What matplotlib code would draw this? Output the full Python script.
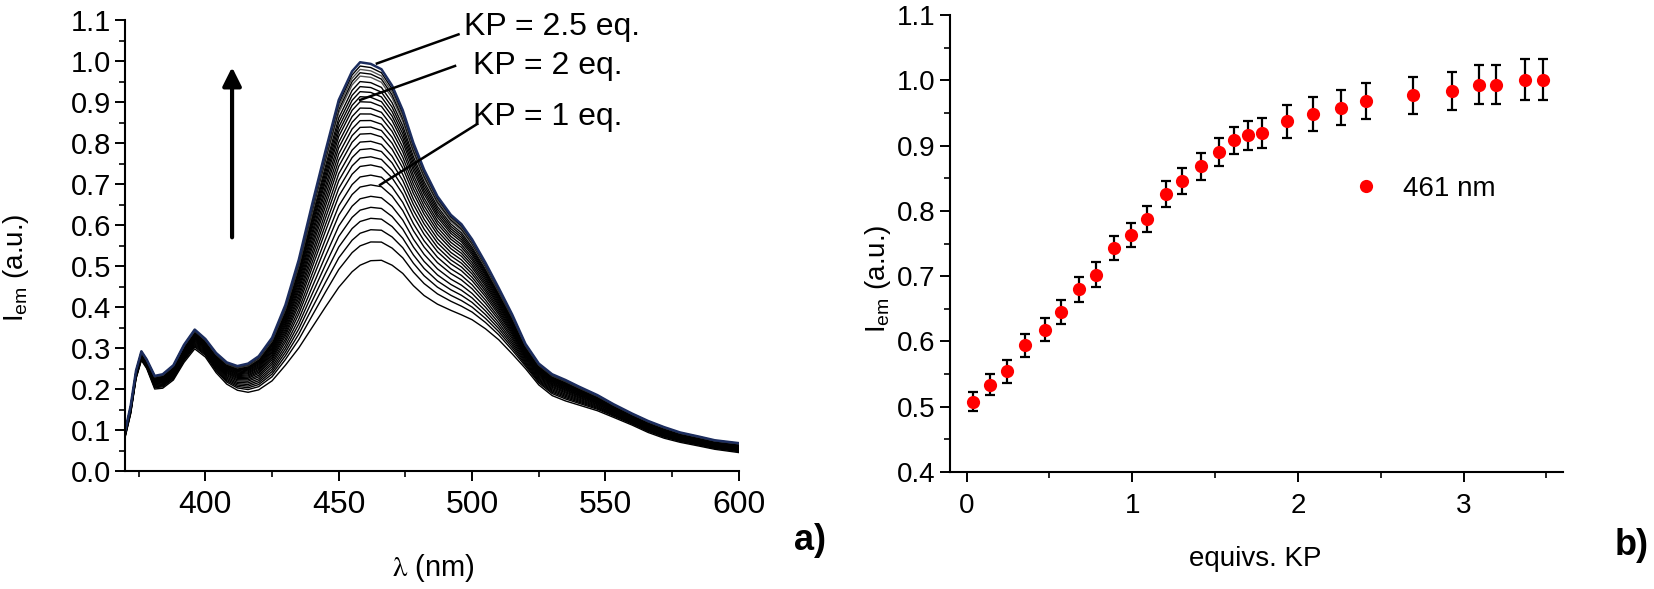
import matplotlib
matplotlib.use('Agg')
import matplotlib.pyplot as plt
import numpy as np
from matplotlib.ticker import MultipleLocator

plt.rcParams['font.family'] = ['Liberation Sans', 'DejaVu Sans']
plt.rcParams['mathtext.fontset'] = 'stix'

# ---------------- data: panel a (emission spectra) ----------------
wavelength = [370, 372, 374, 376, 378, 381, 384, 388, 392, 396, 400, 404, 408, 412,
              416, 420, 425, 430, 435, 440, 445, 450, 455, 458, 462, 466, 470, 474,
              478, 482, 487, 492, 496, 500, 505, 510, 515, 520, 525, 530, 535, 540,
              547, 553, 560, 566, 572, 578, 585, 591, 600]
# lowest spectrum (no KP)
spectrum_low = [0.085, 0.140, 0.225, 0.270, 0.250, 0.200, 0.202, 0.222, 0.265, 0.298,
                0.278, 0.240, 0.212, 0.197, 0.192, 0.198, 0.220, 0.258, 0.300, 0.350,
                0.400, 0.448, 0.486, 0.502, 0.513, 0.514, 0.502, 0.482, 0.452, 0.428,
                0.407, 0.392, 0.381, 0.369, 0.347, 0.320, 0.286, 0.250, 0.210, 0.184,
                0.171, 0.161, 0.147, 0.131, 0.112, 0.094, 0.080, 0.070, 0.061, 0.053,
                0.045]
# highest spectrum (KP = 2.5 eq.)
spectrum_high = [0.100, 0.160, 0.245, 0.292, 0.272, 0.232, 0.236, 0.258, 0.308, 0.345,
                 0.322, 0.288, 0.265, 0.256, 0.262, 0.280, 0.325, 0.405, 0.515, 0.650,
                 0.780, 0.905, 0.975, 0.997, 0.993, 0.980, 0.940, 0.880, 0.800, 0.735,
                 0.670, 0.625, 0.602, 0.565, 0.508, 0.446, 0.382, 0.310, 0.262, 0.236,
                 0.222, 0.206, 0.185, 0.163, 0.140, 0.122, 0.107, 0.094, 0.084, 0.075,
                 0.068]
peak_levels = [0.514, 0.560, 0.590, 0.618, 0.645, 0.672, 0.700, 0.724, 0.749, 0.769,
               0.789, 0.807, 0.826, 0.842, 0.858, 0.874, 0.888, 0.903, 0.915, 0.927,
               0.939, 0.951, 0.964, 0.972, 0.980, 0.988, 0.997]
annotation_labels = ['KP = 2.5 eq.', 'KP = 2 eq.', 'KP = 1 eq.']

# ---------------- data: panel b (titration at 461 nm) ----------------
equivs_kp = [0.036, 0.141, 0.246, 0.354, 0.471, 0.572, 0.677, 0.782, 0.889, 0.990,
             1.091, 1.206, 1.303, 1.414, 1.523, 1.616, 1.697, 1.785, 1.933, 2.091,
             2.260, 2.410, 2.696, 2.929, 3.091, 3.197, 3.369, 3.481]
intensity_461 = [0.508, 0.534, 0.554, 0.594, 0.618, 0.645, 0.680, 0.702, 0.743, 0.763,
                 0.788, 0.826, 0.846, 0.868, 0.890, 0.908, 0.916, 0.920, 0.937, 0.949,
                 0.958, 0.968, 0.977, 0.983, 0.993, 0.993, 1.001, 1.001]
intensity_err = [0.015, 0.016, 0.017, 0.018, 0.018, 0.019, 0.019, 0.019, 0.019, 0.019,
                 0.020, 0.020, 0.020, 0.020, 0.021, 0.021, 0.022, 0.023, 0.025, 0.026,
                 0.027, 0.028, 0.028, 0.029, 0.030, 0.030, 0.031, 0.031]
series_label = '461 nm'

# ---------------- figure ----------------
fig = plt.figure(figsize=(16.54, 5.89), dpi=100)
axL = fig.add_axes([0.0758, 0.2003, 0.3709, 0.7657])
axR = fig.add_axes([0.5744, 0.1986, 0.3706, 0.7759])


def style_axes(ax):
    for s in ('top', 'right'):
        ax.spines[s].set_visible(False)
    for s in ('left', 'bottom'):
        ax.spines[s].set_linewidth(1.5)
    ax.tick_params(which='major', direction='out', length=7, width=1.4)
    ax.tick_params(which='minor', direction='out', length=4, width=1.2)


# panel a
wl = np.array(wavelength)
lo = np.array(spectrum_low)
hi = np.array(spectrum_high)
pmin, pmax = lo.max(), hi.max()
n = len(peak_levels)
for i, p in enumerate(peak_levels):
    w = (p - pmin) / (pmax - pmin)
    if i == n - 1:
        col, lw = '#1c2d5e', 1.8
    elif i >= n - 5 and i % 2 == 0:
        col, lw = '#555555', 1.0
    else:
        col, lw = 'black', 1.0
    axL.plot(wl, lo + w * (hi - lo), color=col, lw=lw, zorder=2 + i * 0.01)

axL.set_xlim(370, 600)
axL.set_ylim(0.0, 1.1)
axL.xaxis.set_major_locator(MultipleLocator(50))
axL.xaxis.set_minor_locator(MultipleLocator(25))
axL.yaxis.set_major_locator(MultipleLocator(0.1))
axL.yaxis.set_minor_locator(MultipleLocator(0.05))
axL.yaxis.set_major_formatter(matplotlib.ticker.FormatStrFormatter('%.1f'))
style_axes(axL)
axL.tick_params(axis='y', labelsize=21, pad=3)
axL.tick_params(axis='x', labelsize=23, pad=7)

# arrow
axL.annotate('', xy=(410, 0.985), xytext=(410, 0.57),
             arrowprops=dict(arrowstyle='-|>', color='black', lw=3,
                             mutation_scale=28, shrinkA=0, shrinkB=0))

# label lines + texts
axL.plot([464.3, 494.9], [0.994, 1.065], color='black', lw=1.8, zorder=5)
axL.plot([458.0, 493.6], [0.905, 0.988], color='black', lw=1.8, zorder=5)
axL.plot([465.5, 501.8], [0.698, 0.846], color='black', lw=1.8, zorder=5)
axL.text(496.8, 1.084, annotation_labels[0], fontsize=23, ha='left', va='center')
axL.text(500.3, 0.988, annotation_labels[1], fontsize=23, ha='left', va='center')
axL.text(500.5, 0.864, annotation_labels[2], fontsize=23, ha='left', va='center')

axL.set_xlabel(r'$\mathrm{\lambda}$ (nm)', fontsize=21)
axL.xaxis.label.set_va('center')
axL.xaxis.set_label_coords(0.502, -0.215)
axL.set_ylabel(r'$\mathregular{I_{em}}$ (a.u.)', fontsize=20)
axL.yaxis.label.set_va('center')
axL.yaxis.set_label_coords(-0.178, 0.45)

# panel b
axR.errorbar(equivs_kp, intensity_461, yerr=intensity_err, fmt='none',
             ecolor='black', elinewidth=1.6, capsize=3.3, capthick=1.6, zorder=2)
axR.plot(equivs_kp, intensity_461, 'o', color='#ff0000', markersize=9.5,
         markeredgewidth=0, label=series_label, zorder=3)
axR.set_xlim(-0.1, 3.6)
axR.set_ylim(0.4, 1.1)
axR.xaxis.set_major_locator(MultipleLocator(1))
axR.xaxis.set_minor_locator(MultipleLocator(0.5))
axR.yaxis.set_major_locator(MultipleLocator(0.1))
axR.yaxis.set_minor_locator(MultipleLocator(0.05))
axR.yaxis.set_major_formatter(matplotlib.ticker.FormatStrFormatter('%.1f'))
style_axes(axR)
axR.tick_params(axis='both', labelsize=20)
axR.tick_params(axis='x', pad=8)

axR.legend(loc='center left', bbox_to_anchor=(0.656, 0.619), frameon=False,
           fontsize=20, handlelength=1.0, handletextpad=0.83, borderpad=0,
           borderaxespad=0, numpoints=1)

axR.set_xlabel('equivs. KP', fontsize=20)
axR.xaxis.label.set_va('center')
axR.xaxis.set_label_coords(0.4975, -0.19)
axR.set_ylabel(r'$\mathregular{I_{em}}$ (a.u.)', fontsize=20)
axR.yaxis.label.set_va('center')
axR.yaxis.set_label_coords(-0.117, 0.424)

fig.text(0.490, 0.083, 'a)', fontsize=26, fontweight='bold', ha='center', va='center')
fig.text(0.9867, 0.0747, 'b)', fontsize=26, fontweight='bold', ha='center', va='center')

fig.savefig('out.png', dpi=100)
